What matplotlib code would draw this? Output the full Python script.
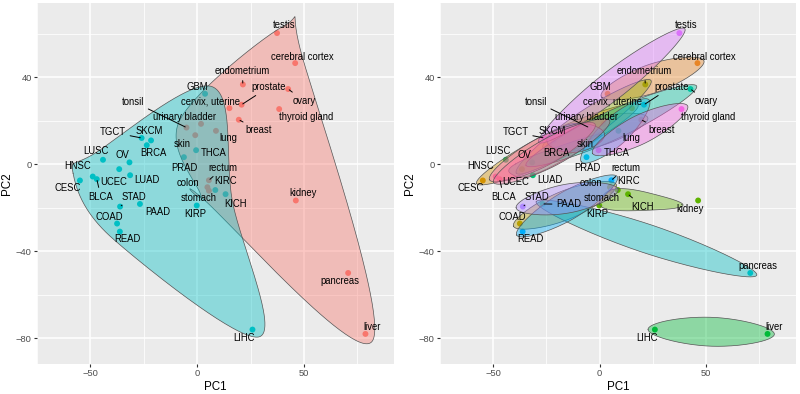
import numpy as np
import matplotlib
matplotlib.use("Agg")
import matplotlib.pyplot as plt

plt.rcParams['font.family'] = ['Liberation Sans', 'DejaVu Sans']

# ---------------- data ----------------
names = ["testis", "cerebral cortex", "endometrium", "ovary", "prostate",
         "cervix, uterine", "thyroid gland", "breast", "tonsil", "urinary bladder",
         "lung", "skin", "rectum", "colon", "stomach", "kidney", "pancreas", "liver",
         "GBM", "TGCT", "SKCM", "BRCA", "LUSC", "OV", "UCEC", "LUAD", "HNSC", "BLCA",
         "CESC", "THCA", "PRAD", "KIRC", "KICH", "KIRP", "STAD", "PAAD", "COAD",
         "READ", "LIHC"]
pc1 = [37.4, 45.9, 21.4, 42.6, 20.8, 15.1, 38.4, 19.5, -5.0, 1.8,
       8.8, -0.9, 5.5, 4.8, 5.5, 46.2, 70.7, 78.8,
       3.7, -26.0, -21.6, -23.6, -44.1, -31.7, -36.5, -31.4, -48.9, -47.0,
       -54.9, -0.5, -6.2, 8.5, 13.3, -0.2, -36.1, -26.8, -37.5, -36.2, 25.9]
pc2 = [60.2, 46.4, 36.6, 34.5, 27.3, 25.7, 25.3, 20.4, 16.8, 18.5,
       15.3, 13.3, -7.4, -10.6, -12.2, -16.7, -50.0, -78.0,
       32.3, 12.0, 10.9, 8.7, 2.0, 0.8, -2.3, -5.1, -5.7, -6.9,
       -7.5, 6.4, 3.2, -11.9, -13.8, -19.0, -19.5, -18.3, -27.3, -31.0, -76.0]
source = ["normal"] * 18 + ["tumor"] * 21
pair = ["testis", "cerebral cortex", "endometrium", "ovary", "prostate",
        "cervix, uterine", "thyroid gland", "breast", "tonsil", "urinary bladder",
        "lung", "skin", "rectum", "colon", "stomach", "kidney", "pancreas", "liver",
        "cerebral cortex", "testis", "skin", "breast", "lung", "ovary", "endometrium",
        "lung", "tonsil", "urinary bladder", "cervix, uterine", "thyroid gland",
        "prostate", "kidney", "kidney", "kidney", "stomach", "pancreas", "colon",
        "rectum", "liver"]

# ---------------- label layout (pixel offsets from the point) ----------------
lab_off = {
    "testis": (7, 7.6), "cerebral cortex": (7, 6.6), "endometrium": (-0.6, 13),
    "prostate": (27.3, 17.7), "ovary": (15.7, -11.7), "cervix, uterine": (-19, 6.6),
    "thyroid gland": (26.7, -8.4), "breast": (20, -10.7), "tonsil": (-53.4, 26),
    "urinary bladder": (-16.6, 6.7), "lung": (12.7, -7.3), "skin": (-13, -8.6),
    "rectum": (14, 12.4), "colon": (-19.3, 4), "stomach": (-10, -7.6),
    "kidney": (7.7, 7.4), "pancreas": (-8, -8), "liver": (7, 7.3),
    "GBM": (-7.7, 7.3), "TGCT": (-28.7, 5.6), "SKCM": (-1.4, 9.4), "BRCA": (7, -8),
    "LUSC": (-7.4, 8.3), "OV": (-7.3, 7), "HNSC": (-15, 10.7), "UCEC": (-6, -12.4),
    "LUAD": (17, -4.7), "CESC": (-12.4, -8), "BLCA": (4, -17.4), "STAD": (14, 10),
    "PAAD": (17.4, -8), "COAD": (-7.6, 7), "READ": (7.4, -7.6), "KIRP": (-1.6, -8.6),
    "KICH": (10.4, -10), "KIRC": (10.6, 8.6), "THCA": (18, -3), "PRAD": (0.7, -10.4),
    "LIHC": (-8, -8),
}
lab_off_right = {"PAAD": (26, -0.3), "KICH": (14.7, -12.4), "kidney": (-7.6, -8.6),
                 "pancreas": (7.3, 7)}
seg_left = {"endometrium", "prostate", "ovary", "breast", "tonsil", "TGCT",
            "rectum", "BLCA", "STAD"}
seg_right = seg_left | {"PAAD", "KICH"}


# ---------------- colours (ggplot hue palette) ----------------
def hcl_hex(h, c=100, l=65):
    Xn, Yn, Zn = 95.047, 100.0, 108.883
    un = 4 * Xn / (Xn + 15 * Yn + 3 * Zn)
    vn = 9 * Yn / (Xn + 15 * Yn + 3 * Zn)
    hr = np.deg2rad(h)
    u, v = c * np.cos(hr), c * np.sin(hr)
    Y = Yn * ((l + 16) / 116) ** 3
    up = u / (13 * l) + un
    vp = v / (13 * l) + vn
    X = 9 * Y * up / (4 * vp)
    Z = -X / 3 - 5 * Y + 3 * Y / vp
    X, Y, Z = X / 100, Y / 100, Z / 100
    r = 3.240479 * X - 1.537150 * Y - 0.498535 * Z
    g = -0.969256 * X + 1.875992 * Y + 0.041556 * Z
    b = 0.055648 * X - 0.204043 * Y + 1.057311 * Z
    out = []
    for ch in (r, g, b):
        ch = 12.92 * ch if ch <= 0.0031308 else 1.055 * ch ** (1 / 2.4) - 0.055
        out.append(min(max(ch, 0), 1))
    return tuple(out)


def hue_pal(n):
    return [hcl_hex(15 + 360 * i / n) for i in range(n)]


# ---------------- smoothing splines ----------------
def f_blend(num, den):
    p = 2 * den * den
    u = num / den
    u2 = u * u
    return u * u2 * (10 - p + (2 * p - 15) * u + (6 - p) * u2)


def xspline_pos(px, py, s=0.5, nstep=60):
    """closed approximating X-spline (positive shape)"""
    n = len(px)
    out = []
    for k in range(n):
        idx = [(k - 1) % n, k, (k + 1) % n, (k + 2) % n]
        P = np.array([[px[i], py[i]] for i in idx])
        for t in np.linspace(0, 1, nstep, endpoint=False):
            A = np.zeros(4)
            A[0] = f_blend(t - s, -1 - s) if t < s else 0
            A[2] = f_blend(t + s, 1 + s)
            A[1] = f_blend(t - 1 - s, -1 - s)
            A[3] = f_blend(t - 1 + s, 1 + s) if t > 1 - s else 0
            out.append(A @ P / A.sum())
    return np.array(out)


def cardinal_closed(px, py, k=0.5, nstep=60):
    """closed interpolating cardinal spline"""
    P = np.column_stack([px, py])
    n = len(P)
    out = []
    for i in range(n):
        p0, p1 = P[i], P[(i + 1) % n]
        m0 = k * (P[(i + 1) % n] - P[(i - 1) % n])
        m1 = k * (P[(i + 2) % n] - P[i])
        for t in np.linspace(0, 1, nstep, endpoint=False):
            t2, t3 = t * t, t * t * t
            out.append((2 * t3 - 3 * t2 + 1) * p0 + (t3 - 2 * t2 + t) * m0 +
                       (-2 * t3 + 3 * t2) * p1 + (t3 - t2) * m1)
    return np.array(out)


def hull(pts):
    pts = sorted(set(map(tuple, pts)))
    if len(pts) <= 2:
        return np.array(pts)

    def cross(o, a, b):
        return (a[0] - o[0]) * (b[1] - o[1]) - (a[1] - o[1]) * (b[0] - o[0])
    lower, upper = [], []
    for p in pts:
        while len(lower) >= 2 and cross(lower[-2], lower[-1], p) <= 0:
            lower.pop()
        lower.append(p)
    for p in reversed(pts):
        while len(upper) >= 2 and cross(upper[-2], upper[-1], p) <= 0:
            upper.pop()
        upper.append(p)
    return np.array(lower[:-1] + upper[:-1])


def encircle(xs, ys, xlim, ylim, expand, width, mode):
    X = (np.asarray(xs) - xlim[0]) / (xlim[1] - xlim[0])
    Y = (np.asarray(ys) - ylim[0]) / (ylim[1] - ylim[0])
    mx, my = X.mean(), Y.mean()
    H = hull(np.column_stack([X, Y]))
    if len(H) == 2:
        # lens: tips just beyond both points, widest in the middle
        p1, p2 = H
        u = (p2 - p1) / np.hypot(*(p2 - p1))
        nrm = np.array([-u[1], u[0]])
        mid = (p1 + p2) / 2
        Q = np.array([p1 - expand * u, mid + width * nrm,
                      p2 + expand * u, mid - width * nrm])
        C = cardinal_closed(Q[:, 0], Q[:, 1], k=0.7)
    else:
        cx, cy = H[:, 0].copy(), H[:, 1].copy()
        cx = cx + np.sign(cx - mx) * expand
        cy = cy + np.sign(cy - my) * expand
        if mode == "interp":
            C = cardinal_closed(cx, cy, k=0.5)
        else:
            C = xspline_pos(cx, cy, s=0.5)
    return (xlim[0] + C[:, 0] * (xlim[1] - xlim[0]),
            ylim[0] + C[:, 1] * (ylim[1] - ylim[0]))


# ---------------- figure ----------------
x = np.array(pc1)
y = np.array(pc2)
xr = x.max() - x.min()
yr = y.max() - y.min()
xlim = (x.min() - 0.1 * xr, x.max() + 0.1 * xr)
ylim = (y.min() - 0.1 * yr, y.max() + 0.1 * yr)

fig = plt.figure(figsize=(8, 3.94), dpi=100)
axL = fig.add_axes([37 / 800, 30 / 394, 357 / 800, 361 / 394])
axR = fig.add_axes([440 / 800, 30 / 394, 356 / 800, 361 / 394])

TXT = 6.85
for ax in (axL, axR):
    ax.set_facecolor("#EBEBEB")
    for sp in ax.spines.values():
        sp.set_visible(False)
    ax.set_xlim(xlim)
    ax.set_ylim(ylim)
    ax.set_xticks([-50, 0, 50])
    ax.set_xticks([-75, -25, 25, 75], minor=True)
    ax.set_yticks([-80, -40, 0, 40])
    ax.set_yticks([-60, -20, 20, 60], minor=True)
    ax.grid(which="major", color="white", lw=1.1)
    ax.grid(which="minor", color="white", lw=0.55)
    ax.set_axisbelow(True)
    ax.tick_params(which="major", length=2.1, width=0.8, color="#333333",
                   labelsize=6.75, labelcolor="#4D4D4D", pad=1.7)
    ax.tick_params(which="minor", length=0)
    ax.set_xlabel("PC1", fontsize=8.4, labelpad=2.0)
    ax.set_ylabel("PC2", fontsize=8.4, labelpad=2.0)

# left panel
col2 = hue_pal(2)
src_levels = ["normal", "tumor"]
src_col = {s: col2[i] for i, s in enumerate(src_levels)}
axL.scatter(x, y, s=18, c=[src_col[s] for s in source], linewidths=0, zorder=2)
for s in src_levels:
    m = np.array([v == s for v in source])
    ex, ey = encircle(x[m], y[m], xlim, ylim, expand=0.02, width=0.04, mode="interp")
    axL.fill(ex, ey, facecolor=src_col[s], alpha=0.4, edgecolor="none", zorder=3)
    axL.plot(np.r_[ex, ex[:1]], np.r_[ey, ey[:1]], color="#555555", lw=0.5, zorder=3)

# right panel
groups = sorted(set(pair))
gcol = dict(zip(groups, hue_pal(len(groups))))
axR.scatter(x, y, s=18, c=[gcol[g] for g in pair], linewidths=0, zorder=2)
for g in groups:
    m = np.array([v == g for v in pair])
    ex, ey = encircle(x[m], y[m], xlim, ylim, expand=0.02, width=0.04, mode="approx")
    axR.fill(ex, ey, facecolor=gcol[g], alpha=0.4, edgecolor="none", zorder=3)
    axR.plot(np.r_[ex, ex[:1]], np.r_[ey, ey[:1]], color="#555555", lw=0.5, zorder=3)


def labels(ax, offs, segs):
    for n, xi, yi in zip(names, x, y):
        dx, dy = offs.get(n, lab_off[n])
        kw = {}
        if n in segs:
            kw["arrowprops"] = dict(arrowstyle="-", color="black", lw=0.7,
                                    shrinkA=1, shrinkB=1)
        ax.annotate(n, xy=(xi, yi), xytext=(dx, dy), textcoords="offset pixels",
                    ha="center", va="center", fontsize=TXT, color="black",
                    zorder=5, **kw)


labels(axL, {}, seg_left)
labels(axR, lab_off_right, seg_right)

fig.savefig("out.png", dpi=100)
